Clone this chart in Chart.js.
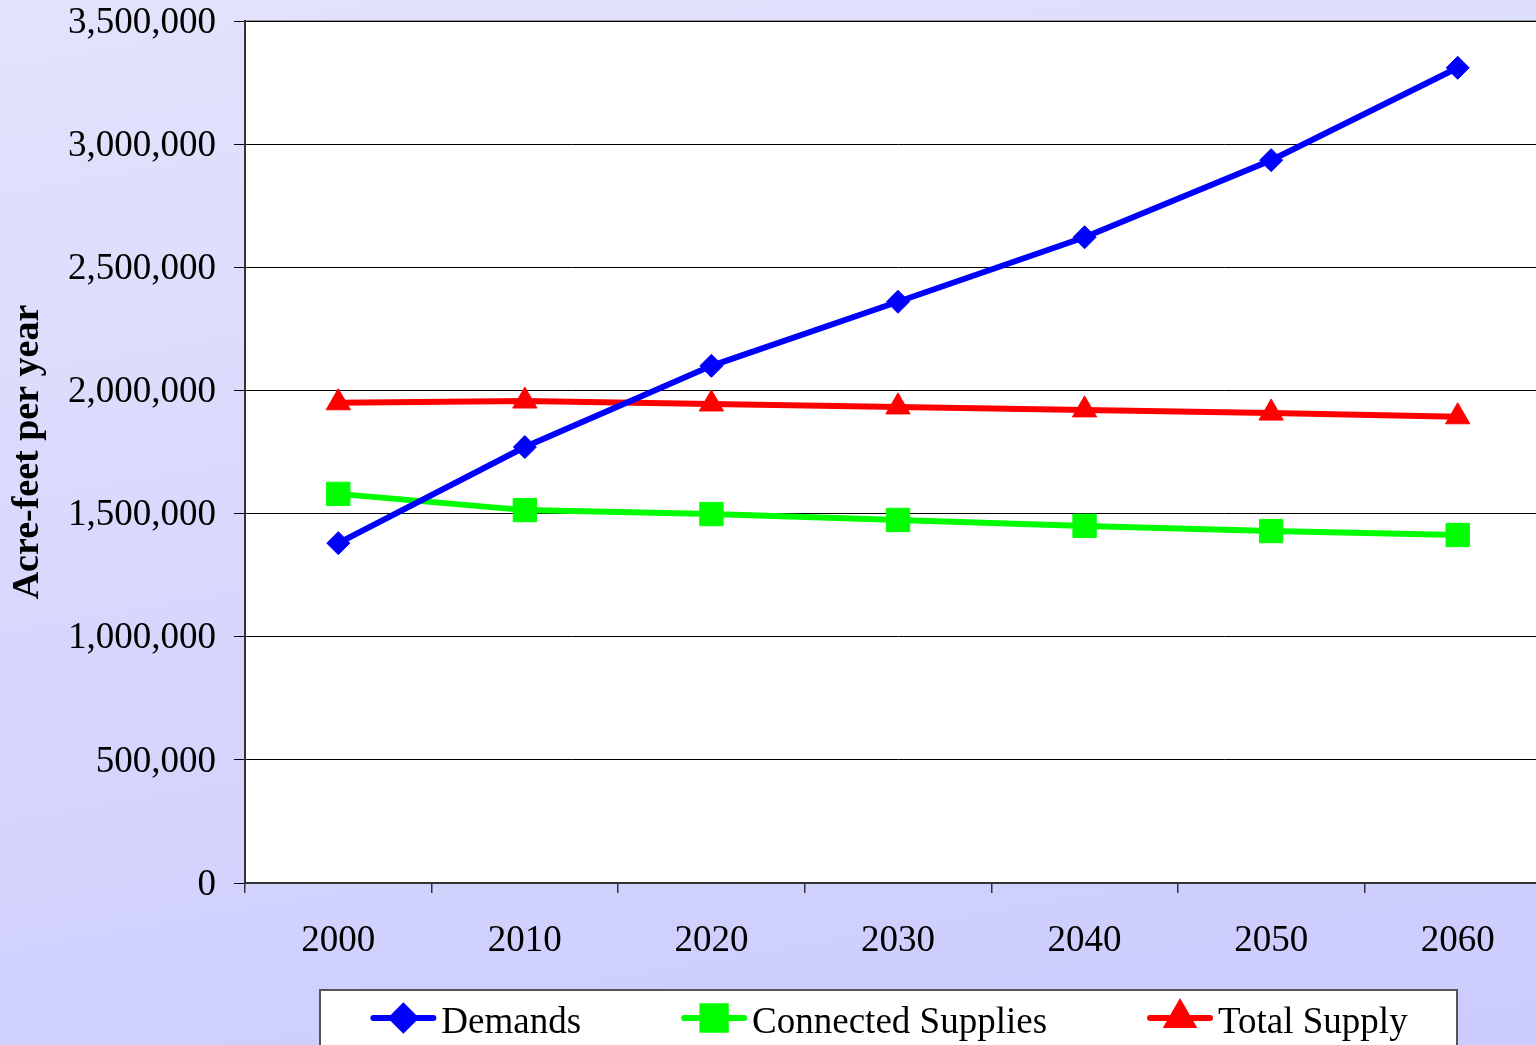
<!DOCTYPE html>
<html>
<head>
<meta charset="utf-8">
<script src="https://cdn.jsdelivr.net/npm/chart.js@4/dist/chart.umd.min.js"></script>
<style>
  html, body { margin: 0; padding: 0; overflow: hidden; }
  body {
    width: 1536px; height: 1045px;
    background: linear-gradient(170deg, #e3e3fc 0%, #d8d8fd 45%, #cbcbfe 100%);
  }
  canvas { display: block; }
</style>
</head>
<body>
<canvas id="grafico" width="1551" height="1100"></canvas>
<script>
const anos = ['2000', '2010', '2020', '2030', '2040', '2050', '2060'];

const demandas = [1380000, 1770000, 2100000, 2360000, 2622000, 2935000, 3310000];
const fornecimentoConectado = [1580000, 1514000, 1498000, 1474000, 1450000, 1429000, 1413000];
const fornecimentoTotal = [1950000, 1957000, 1945000, 1933000, 1921000, 1908000, 1893000];

const fonte = 'Liberation Serif, "Times New Roman", serif';
Chart.defaults.font.family = fonte;
Chart.defaults.color = '#000';

const ctx = document.getElementById('grafico').getContext('2d');

// fundo branco da area do grafico + linha cinza no topo
const fundoArea = {
  id: 'fundoArea',
  beforeDraw(chart) {
    const { ctx, chartArea: a } = chart;
    ctx.save();
    ctx.fillStyle = '#fff';
    ctx.fillRect(a.left, a.top, a.right - a.left, a.bottom - a.top);
    ctx.strokeStyle = '#9a9a9a';
    ctx.lineWidth = 2;
    ctx.beginPath();
    ctx.moveTo(a.left, a.top);
    ctx.lineTo(a.right, a.top);
    ctx.stroke();
    ctx.restore();
  }
};

// legenda em caixa embaixo do grafico
const legendaCaixa = {
  id: 'legendaCaixa',
  afterDraw(chart) {
    const { ctx } = chart;
    const caixa = { x: 320, y: 990, w: 1137, h: 80 };
    ctx.save();
    ctx.fillStyle = '#fff';
    ctx.fillRect(caixa.x, caixa.y, caixa.w, caixa.h);
    ctx.strokeStyle = '#555';
    ctx.lineWidth = 2;
    ctx.strokeRect(caixa.x, caixa.y, caixa.w, caixa.h);

    ctx.font = '37px ' + fonte;
    const linha = 60, espaco = 8, gap = 103;
    const itens = chart.data.datasets.map(ds => ({ ds, w: linha + espaco + ctx.measureText(ds.label).width }));
    const total = itens.reduce((s, i) => s + i.w, 0) + gap * (itens.length - 1);
    let x = caixa.x + (caixa.w - total) / 2 + 2;
    const yLinha = 1018, yTexto = 1033;

    itens.forEach(({ ds, w }) => {
      ctx.strokeStyle = ds.borderColor;
      ctx.lineWidth = ds.borderWidth;
      ctx.lineCap = 'round';
      ctx.beginPath();
      ctx.moveTo(x, yLinha);
      ctx.lineTo(x + linha, yLinha);
      ctx.stroke();
      ctx.fillStyle = ds.pointBackgroundColor;
      ctx.strokeStyle = ds.pointBorderColor;
      Chart.helpers.drawPoint(ctx, {
        pointStyle: ds.pointStyle, radius: ds.pointRadius, rotation: 0, borderWidth: 1
      }, x + linha / 2, yLinha);
      ctx.fillStyle = '#000';
      ctx.textBaseline = 'alphabetic';
      ctx.textAlign = 'left';
      ctx.fillText(ds.label, x + linha + espaco, yTexto);
      x += w + gap;
    });
    ctx.restore();
  }
};

function serie(label, dados, cor, estilo, raio) {
  return {
    label: label,
    data: dados,
    borderColor: cor,
    backgroundColor: cor,
    pointBackgroundColor: cor,
    pointBorderColor: cor,
    pointBorderWidth: 1,
    pointStyle: estilo,
    pointRadius: raio,
    pointHoverRadius: raio,
    borderWidth: 6,
    fill: false,
    tension: 0
  };
}

const grafico = new Chart(ctx, {
  type: 'line',
  data: {
    labels: anos,
    datasets: [
      serie('Demands', demandas, '#0000ff', 'rectRot', 11.5),
      serie('Connected Supplies', fornecimentoConectado, '#00ff00', 'rect', 16.5),
      serie('Total Supply', fornecimentoTotal, '#ff0000', 'triangle', 14)
    ]
  },
  options: {
    responsive: false,
    animation: false,
    layout: { autoPadding: false, padding: { top: 21, left: 0, right: 0, bottom: 0 } },
    plugins: {
      legend: { display: false },
      tooltip: { enabled: false }
    },
    scales: {
      x: {
        offset: true,
        afterFit(scale) { scale.height = 1100 - 883; },
        grid: {
          offset: true,
          drawOnChartArea: false,
          drawTicks: true,
          tickLength: 10,
          color: '#333',
          lineWidth: 1.5
        },
        border: { color: '#333', width: 2 },
        ticks: {
          font: { size: 37 },
          padding: 26,
          maxRotation: 0
        }
      },
      y: {
        min: 0,
        max: 3500000,
        afterFit(scale) {
          scale.width = 245;
          scale.paddingTop = 0;
          scale.paddingBottom = 0;
        },
        grid: {
          color: '#000',
          lineWidth: 1,
          tickLength: 11,
          drawTicks: true
        },
        border: { color: '#333', width: 2 },
        ticks: {
          stepSize: 500000,
          font: { size: 37 },
          padding: 18,
          labelOffset: 2,
          callback: v => v.toLocaleString('en-US')
        },
        title: {
          display: true,
          text: 'Acre-feet per year',
          font: { size: 38, weight: 'bold', lineHeight: 1.5 },
          padding: 0
        }
      }
    }
  },
  plugins: [fundoArea, legendaCaixa]
});
</script>
</body>
</html>
